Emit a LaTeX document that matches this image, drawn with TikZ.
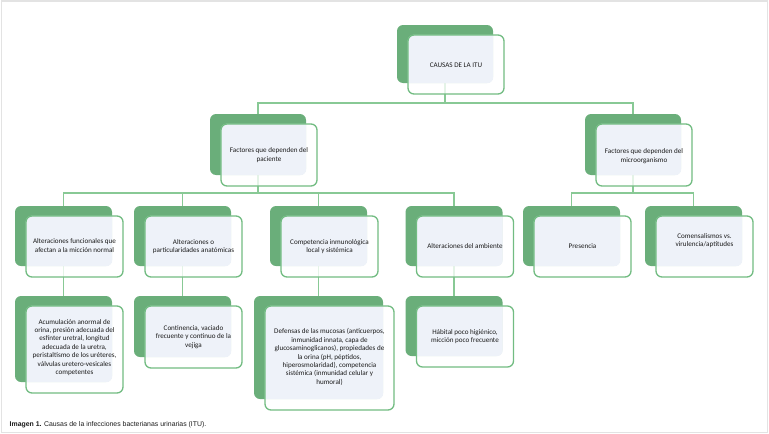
\documentclass[tikz,border=0pt]{standalone}
\usepackage{fontspec}
\setmainfont{Carlito}
\newfontfamily\capfont{Liberation Sans}
\usetikzlibrary{calc}
\definecolor{backgreen}{HTML}{6AAE7A}
\definecolor{frontgreen}{HTML}{72BC82}
\definecolor{conngreen}{HTML}{88C995}
\definecolor{pale}{HTML}{EEF2F9}
\definecolor{txt}{HTML}{1C1C1C}
\definecolor{framegray}{HTML}{E3E3E3}
\tikzset{
  backbox/.style={fill=backgreen, draw=none, rounded corners=6pt, inner sep=0pt},
  frontbox/.style={draw=frontgreen, line width=1.3pt, rounded corners=6pt, inner sep=0pt,
    align=center, text=txt, font=\fontsize{7}{8.4}\selectfont},
  conn/.style={draw=conngreen, line width=1.6pt},
}
% #1 name, #2 cx, #3 cy, #4 width, #5 height, #6 text, #7 text shift
\newcommand{\cbox}[7]{%
  \node[backbox, minimum width=#4pt, minimum height=#5pt] (#1) at (#2,#3) {};
  \fill[white, fill opacity=0.78, rounded corners=6pt] ($(#1.north west)+(11,10)$) rectangle ($(#1.south east)+(11,11)$);
  \begin{scope}
    \clip[rounded corners=6pt] (#1.north west) rectangle (#1.south east);
    \fill[pale, rounded corners=6pt] ($(#1.north west)+(11,10)$) rectangle ($(#1.south east)+(11,11)$);
  \end{scope}
  \node[frontbox, minimum width=#4pt, minimum height=#5pt+1pt] (#1f) at ($(#1)+(11,10.5)$) {};
  \node[align=center, text=txt, font=\fontsize{7.1}{8.4}\selectfont, inner sep=0pt] (#1t) at ($(#1f)+#7$) {#6};
}
\begin{document}
\begin{tikzpicture}[x=1pt,y=-1pt]
\useasboundingbox (0,0) rectangle (769,434);
\draw[framegray, line width=1.5pt] (1.5,0.75) rectangle (767.5,432.5);
% connector anchors
\coordinate (rC) at (445,54);
\coordinate (rP) at (258,144.5);
\coordinate (rM) at (633,144.5);
\coordinate (rA) at (63.5,236);
\coordinate (rB) at (182.5,236);
\coordinate (rCc) at (318.5,236);
\coordinate (rD) at (454,236);
\coordinate (rE) at (571.5,236);
\coordinate (rF) at (693.5,236);
\coordinate (rA2) at (63.5,339);
\coordinate (rB2) at (182.5,326.5);
\coordinate (rC2) at (318.5,347.5);
\coordinate (rD2) at (454,326);
% connectors
\draw[conn] (rC) -- (rC |- 0,103) -| (rP);
\draw[conn] (rC |- 0,103) -| (rM);
\draw[conn] (rP) -- (rP |- 0,193) -| (rA);
\draw[conn] (rP |- 0,193) -| (rB);
\draw[conn] (rP |- 0,193) -| (rCc);
\draw[conn] (rP |- 0,193) -| (rD);
\draw[conn] (rM) -- (rM |- 0,193) -| (rE);
\draw[conn] (rM |- 0,193) -| (rF);
\draw[conn] (rA) -- (rA2);
\draw[conn] (rB) -- (rB2);
\draw[conn] (rCc) -- (rC2);
\draw[conn] (rD) -- (rD2);
% boxes
\cbox{C}{445}{54}{96}{58}{CAUSAS DE LA ITU}{(0,1)}
\cbox{P}{258}{144.5}{96}{61}{Factores que dependen del\\paciente}{(0,0)}
\cbox{M}{633}{144.5}{96}{61}{Factores que dependen del\\microorganismo}{(0,1)}
\cbox{A}{63.5}{236}{97}{60}{Alteraciones funcionales que\\afectan a la micción normal}{(0,-1)}
\cbox{B}{182.5}{236}{97}{60}{Alteraciones o\\particularidades anatómicas}{(0,0)}
\cbox{Cc}{318.5}{236}{97}{60}{Competencia inmunológica\\local y sistémica}{(0,0)}
\cbox{D}{454}{236}{97}{60}{Alteraciones del ambiente}{(0,0)}
\cbox{E}{571.5}{236}{97}{60}{Presencia}{(0,0)}
\cbox{F}{693.5}{236}{97}{60}{Comensalismos vs.\\virulencia/aptitudes}{(0,-6)}
\cbox{A2}{63.5}{339}{97}{86}{Acumulación anormal de\\orina, presión adecuada del\\esfínter uretral, longitud\\adecuada de la uretra,\\peristaltismo de los uréteres,\\válvulas uretero-vesicales\\competentes}{(0,-2)}
\cbox{B2}{182.5}{326.5}{97}{61}{Continencia, vaciado\\frecuente y continuo de la\\vejiga}{(0,0)}
\cbox{C2}{318.5}{347.5}{129}{103}{Defensas de las mucosas (anticuerpos,\\inmunidad innata, capa de\\glucosaminoglicanos), propiedades de\\la orina (pH, péptidos,\\hiperosmolaridad), competencia\\sistémica (inmunidad celular y\\humoral)}{(0,-1)}
\cbox{D2}{454}{326}{97}{60}{Hábital poco higiénico,\\micción poco frecuente}{(0,0)}
% caption
\node[anchor=base west, inner sep=0pt, text=txt, font=\capfont\fontsize{6.9}{8}\selectfont] (cap) at (9.5,426.5) {\textbf{Imagen 1.} Causas de la infecciones bacterianas urinarias (ITU).};
\end{tikzpicture}
\end{document}
